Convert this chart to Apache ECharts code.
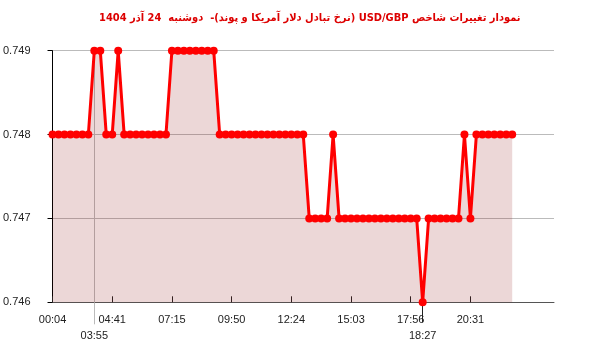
<!DOCTYPE html>
<html><head><meta charset="utf-8">
<script src="https://cdn.jsdelivr.net/npm/echarts@6/dist/echarts.min.js"></script>
<style>html,body{margin:0;padding:0;background:#fff}#c{width:600px;height:352px}</style>
</head><body><div id="c"></div>
<script>
const titleText = 'نمودار تغییرات شاخص USD/GBP (نرخ تبادل دلار آمریکا و پوند)-  دوشنبه  24 آذر 1404';
// values per sample (index along x)
const values = [
  0.748,0.748,0.748,0.748,0.748,0.748,0.748,
  0.749,0.749,
  0.748,0.748,
  0.749,
  0.748,0.748,0.748,0.748,0.748,0.748,0.748,0.748,
  0.749,0.749,0.749,0.749,0.749,0.749,0.749,0.749,
  0.748,0.748,0.748,0.748,0.748,0.748,0.748,0.748,0.748,0.748,0.748,0.748,0.748,0.748,0.748,
  0.747,0.747,0.747,0.747,
  0.748,
  0.747,0.747,0.747,0.747,0.747,0.747,0.747,0.747,0.747,0.747,0.747,0.747,0.747,0.747,
  0.746,
  0.747,0.747,0.747,0.747,0.747,0.747,
  0.748,
  0.747,
  0.748,0.748,0.748,0.748,0.748,0.748,0.748
];
const tickIdx = [0,10,20,30,40,50,60,70];
const tickLabels = ['00:04','04:41','07:15','09:50','12:24','15:03','17:56','20:31'];
const markAIdx = 7, markALabel = '03:55';
const markBIdx = 62, markBLabel = '18:27';
const xMax = 84;
const yTicks = [0.746,0.747,0.748,0.749];

const font = 'Liberation Sans, Arial, sans-serif';
const chart = echarts.init(document.getElementById('c'));
const baseX = {type:'value', min:0, max:xMax, gridIndex:0, position:'bottom'};
chart.setOption({
  animation:false,
  title:{text:'\u202B' + titleText + '\u202C', left:94, top:8,
    textStyle:{color:'#dd0000', fontSize:11, fontWeight:'bold', fontFamily:'DejaVu Sans Condensed, DejaVu Sans, sans-serif'}},
  grid:{left:50.8, right:46, top:50.7, bottom:49.7},
  xAxis:[
    Object.assign({}, baseX, {
      axisLine:{show:true, lineStyle:{color:'#555', width:1}},
      axisTick:{show:true, inside:true, length:6, customValues:tickIdx, lineStyle:{color:'#222'}},
      axisLabel:{show:true, customValues:tickIdx, margin:12, color:'#222', fontSize:11, fontFamily:font,
        formatter:v=>{const k=tickIdx.indexOf(Math.round(v)); return k>=0?tickLabels[k]:'';}},
      splitLine:{show:false}
    }),
    Object.assign({}, baseX, {
      axisLine:{show:false},
      axisTick:{show:true, inside:false, length:22, customValues:[markAIdx], lineStyle:{color:'#bbb'}},
      axisLabel:{show:true, customValues:[markAIdx], margin:28, color:'#222', fontSize:11, fontFamily:font,
        formatter:()=>markALabel},
      splitLine:{show:true, lineStyle:{color:'#bbb', width:1}}
    }),
    Object.assign({}, baseX, {
      axisLine:{show:false},
      axisTick:{show:true, inside:false, length:20, customValues:[markBIdx], lineStyle:{color:'#222'}},
      axisLabel:{show:true, customValues:[markBIdx], margin:28, color:'#222', fontSize:11, fontFamily:font,
        formatter:()=>markBLabel},
      splitLine:{show:false}
    })
  ],
  yAxis:{type:'value', min:yTicks[0], max:yTicks[yTicks.length-1], interval:0.001,
    axisLine:{show:true, lineStyle:{color:'#000'}},
    axisTick:{show:true, length:5, lineStyle:{color:'#000'}},
    axisLabel:{color:'#222', fontSize:11, fontFamily:font, margin:22, formatter:v=>v.toFixed(3)},
    splitLine:{show:true, lineStyle:{color:'#bbb', width:1}}
  },
  series:[{
    type:'line', xAxisIndex:0,
    data: values.map((v,i)=>[i,v]),
    symbol:'circle', symbolSize:8, showSymbol:true,
    lineStyle:{color:'#ff0000', width:3},
    itemStyle:{color:'#ff0000'},
    areaStyle:{color:'rgba(140,15,15,0.24)', origin:'start'},
    z:3
  }]
});
</script></body></html>
